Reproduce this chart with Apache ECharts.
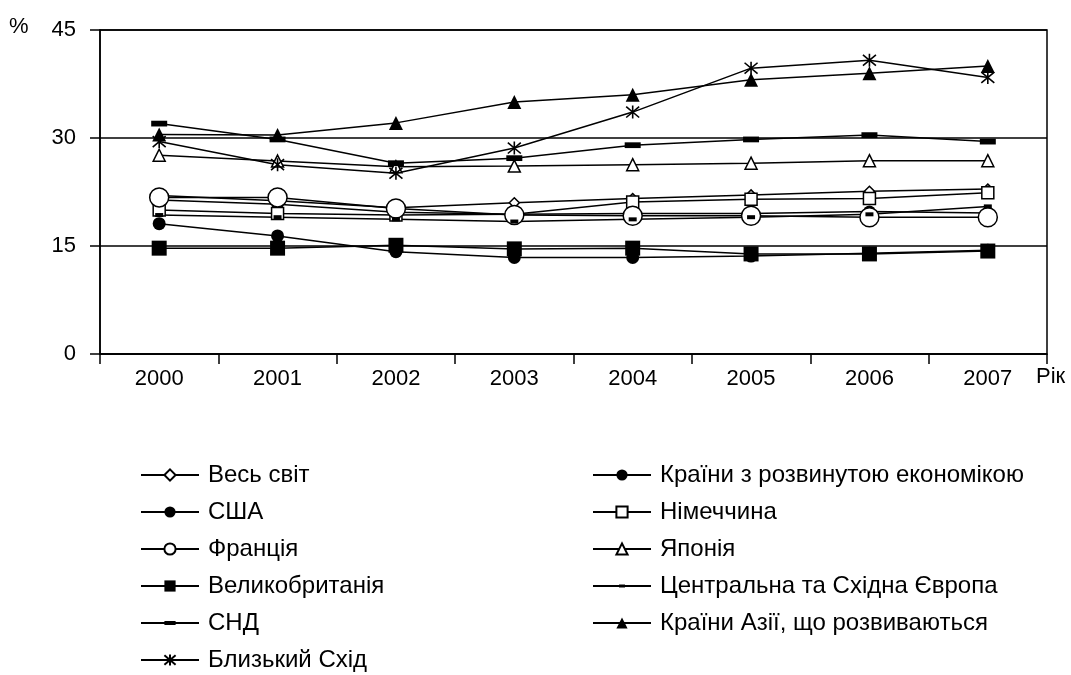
<!DOCTYPE html>
<html>
<head>
<meta charset="utf-8">
<script src="https://cdn.jsdelivr.net/npm/echarts@6/dist/echarts.min.js"></script>
<style>
  html, body { margin: 0; padding: 0; background: #fff; }
  #chart { width: 1071px; height: 675px; }
</style>
</head>
<body>
<div id="chart"></div>
<script>
// дані (% ВВП)
const years = ['2000', '2001', '2002', '2003', '2004', '2005', '2006', '2007'];
const yTicks = [0, 15, 30, 45];

const world = [22.0, 21.3, 20.3, 21.0, 21.6, 22.1, 22.6, 22.9];
const advanced = [21.4, 20.8, 19.7, 19.4, 19.5, 19.5, 19.8, 19.6];
const usa = [18.1, 16.4, 14.2, 13.4, 13.4, 13.6, 14.0, 14.4];
const germany = [20.0, 19.5, 19.3, 19.4, 21.1, 21.5, 21.6, 22.4];
const france = [21.75, 21.75, 20.2, 19.3, 19.2, 19.2, 19.0, 19.0];
const japan = [27.6, 26.8, 26.0, 26.1, 26.3, 26.5, 26.85, 26.85];
const uk = [14.7, 14.7, 15.1, 14.6, 14.7, 13.9, 13.9, 14.3];
const cee = [19.3, 19.0, 18.7, 18.4, 18.7, 19.0, 19.4, 20.5];
const cis = [32.0, 29.8, 26.5, 27.2, 29.0, 29.8, 30.4, 29.5];
const asia = [30.5, 30.4, 32.1, 35.0, 36.0, 38.1, 39.0, 40.0];
const mideast = [29.5, 26.3, 25.1, 28.6, 33.6, 39.7, 40.8, 38.4];

const FONT = "'Liberation Sans', Arial, sans-serif";
const STAR = 'path://M1,1L11,11M11,1L1,11M6,0L6,12';
// квадратна рамка (точки M) потрібна, щоб риска не розтягувалась у легенді
const DASH_BIG = 'path://M0,0L0,0M0,4.8L15,4.8L15,10.2L0,10.2ZM15,15L15,15';
const DASH_SMALL = 'path://M0,0L0,0M3.5,5.5L11.5,5.5L11.5,9.5L3.5,9.5ZM15,15L15,15';

const open = { color: '#fff', borderColor: '#000', borderWidth: 1.5 };
const filled = { color: '#000', borderColor: '#000', borderWidth: 0 };

const seriesDefs = [
  { name: 'Весь світ', data: world, symbol: 'diamond', size: 10, style: open },
  { name: 'Країни з розвинутою економікою', data: advanced, symbol: 'circle', size: 12, style: filled },
  { name: 'США', data: usa, symbol: 'circle', size: 13, style: filled },
  { name: 'Німеччина', data: germany, symbol: 'rect', size: 12, style: open },
  { name: 'Франція', data: france, symbol: 'circle', size: 19, style: open },
  { name: 'Японія', data: japan, symbol: 'triangle', size: 12, style: open },
  { name: 'Великобританія', data: uk, symbol: 'rect', size: 15, style: filled },
  { name: 'Центральна та Східна Європа', data: cee, symbol: DASH_SMALL, size: 15, style: filled },
  { name: 'СНД', data: cis, symbol: DASH_BIG, size: 16, style: filled },
  { name: 'Країни Азії, що розвиваються', data: asia, symbol: 'triangle', size: 14, style: filled },
  { name: 'Близький Схід', data: mideast, symbol: STAR, size: 13, style: { color: '#fff', borderColor: '#000', borderWidth: 1.6 } },
];

const leftNames = ['Весь світ', 'США', 'Франція', 'Великобританія', 'СНД', 'Близький Схід'];
const rightNames = ['Країни з розвинутою економікою', 'Німеччина', 'Японія', 'Центральна та Східна Європа', 'Країни Азії, що розвиваються'];

const legendBase = {
  orient: 'vertical',
  top: 463,
  padding: 0,
  itemWidth: 58,
  itemHeight: 14,
  itemGap: 13,
  textStyle: { fontFamily: FONT, fontSize: 24, color: '#000', lineHeight: 24, padding: [0, 0, 0, 4] },
};

const chart = echarts.init(document.getElementById('chart'));
chart.setOption({
  animation: false,
  backgroundColor: '#fff',
  textStyle: { fontFamily: FONT },
  grid: {
    left: 100,
    right: 24,
    top: 30,
    bottom: 321,
    show: true,
    borderColor: '#000',
    borderWidth: 1.5,
  },
  legend: [
    Object.assign({}, legendBase, { left: 140, data: leftNames }),
    Object.assign({}, legendBase, { left: 592, data: rightNames }),
  ],
  xAxis: {
    type: 'category',
    data: years,
    boundaryGap: true,
    axisLine: { lineStyle: { color: '#000', width: 1.5 } },
    axisTick: { show: true, length: 10, lineStyle: { color: '#000', width: 1.5 } },
    axisLabel: { color: '#000', fontSize: 22, fontFamily: FONT, margin: 14 },
  },
  yAxis: {
    type: 'value',
    min: yTicks[0],
    max: yTicks[yTicks.length - 1],
    interval: 15,
    axisLine: { show: true, lineStyle: { color: '#000', width: 1.5 } },
    axisTick: { show: true, length: 10, lineStyle: { color: '#000', width: 1.5 } },
    axisLabel: { color: '#000', fontSize: 22, fontFamily: FONT, margin: 24 },
    splitLine: { show: true, lineStyle: { color: '#000', width: 1.5 } },
  },
  graphic: [
    { type: 'text', left: 9, top: 16, style: { text: '%', fontSize: 22, fontFamily: FONT, fill: '#000' } },
    { type: 'text', left: 1036, top: 366, style: { text: 'Рік', fontSize: 22, fontFamily: FONT, fill: '#000' } },
  ],
  series: seriesDefs.map((s) => ({
    type: 'line',
    name: s.name,
    data: s.data,
    symbol: s.symbol,
    symbolSize: s.size,
    showAllSymbol: true,
    lineStyle: { color: '#000', width: 1.5 },
    itemStyle: s.style,
    emphasis: { disabled: true },
  })),
});
</script>
</body>
</html>
